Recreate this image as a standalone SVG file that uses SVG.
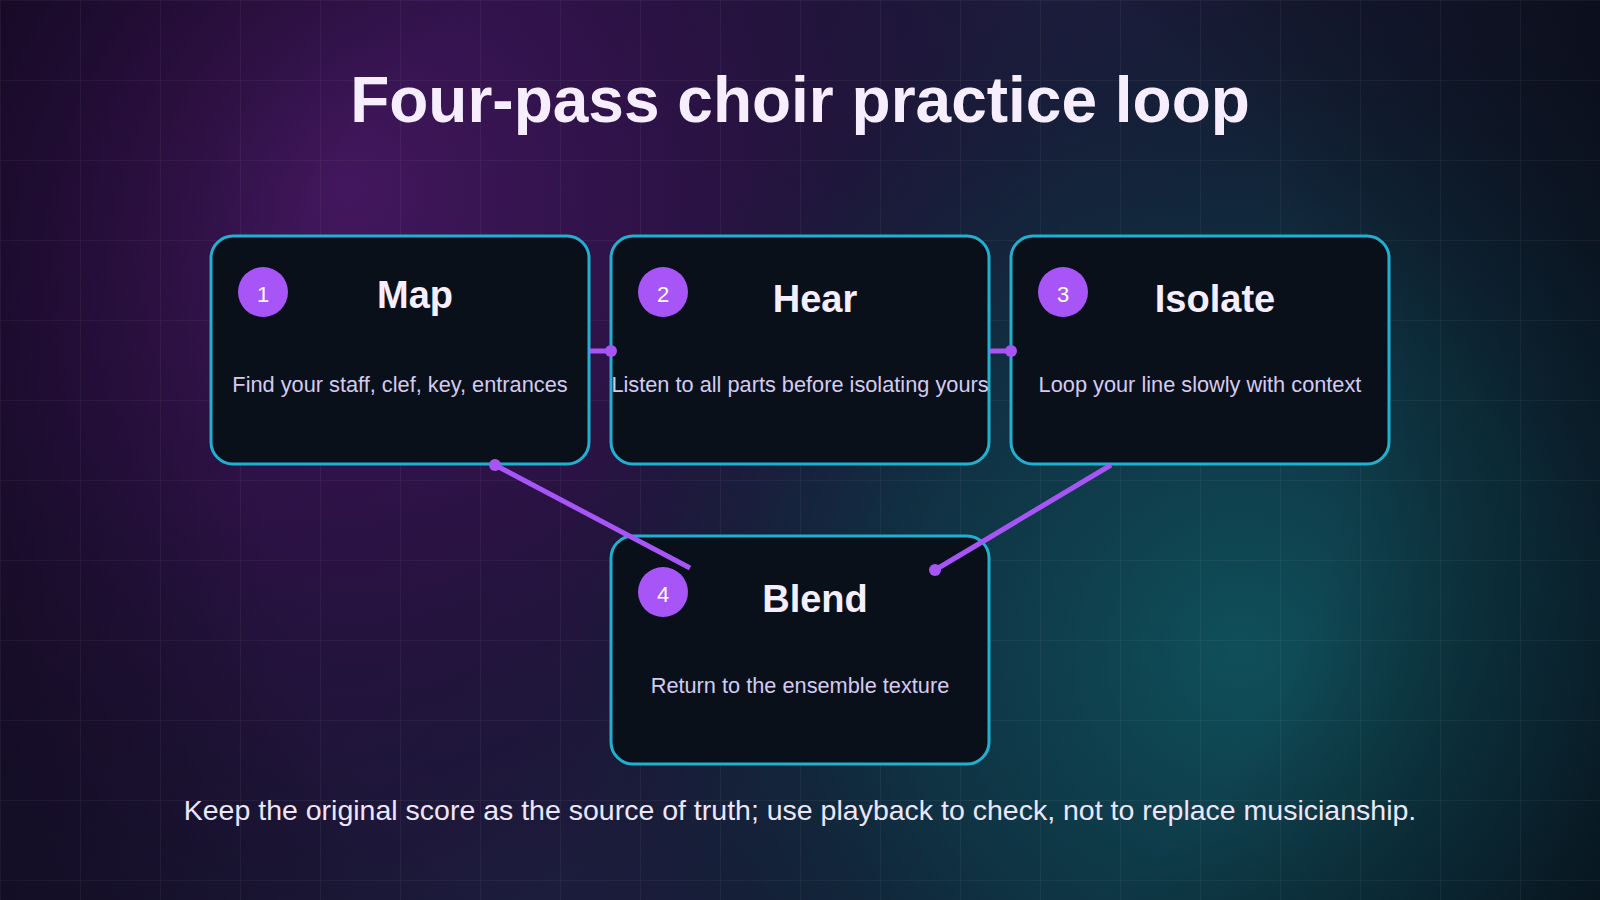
<svg xmlns="http://www.w3.org/2000/svg" width="1600" height="900" viewBox="0 0 1600 900">
  <defs>
    <radialGradient id="glowPurple" cx="350" cy="190" r="720" gradientUnits="userSpaceOnUse">
      <stop offset="0" stop-color="#43175e"/>
      <stop offset="0.5" stop-color="#2e1046" stop-opacity="0.75"/>
      <stop offset="1" stop-color="#1a0c2a" stop-opacity="0"/>
    </radialGradient>
    <radialGradient id="glowTeal" cx="1240" cy="650" r="680" gradientUnits="userSpaceOnUse">
      <stop offset="0" stop-color="#0f505a"/>
      <stop offset="0.5" stop-color="#0d3a48" stop-opacity="0.75"/>
      <stop offset="1" stop-color="#0b2030" stop-opacity="0"/>
    </radialGradient>
    <radialGradient id="vignette" cx="800" cy="450" r="980" gradientUnits="userSpaceOnUse">
      <stop offset="0.55" stop-color="#000000" stop-opacity="0"/>
      <stop offset="1" stop-color="#05040c" stop-opacity="0.55"/>
    </radialGradient>
    <linearGradient id="base" x1="0" y1="0" x2="1600" y2="900" gradientUnits="userSpaceOnUse">
      <stop offset="0" stop-color="#24103c"/>
      <stop offset="0.5" stop-color="#1c1c3c"/>
      <stop offset="1" stop-color="#0a1822"/>
    </linearGradient>
    <pattern id="grid" x="0" y="0" width="80" height="80" patternUnits="userSpaceOnUse">
      <path d="M80 0 L0 0 L0 80" fill="none" stroke="#ffffff" stroke-opacity="0.06" stroke-width="1.5"/>
    </pattern>
    <marker id="dot" viewBox="0 0 14 14" refX="7" refY="7" markerWidth="14" markerHeight="14" markerUnits="userSpaceOnUse">
      <circle cx="7" cy="7" r="6" fill="#a855f7"/>
    </marker>
    <style>
      .box { fill: #0a101a; stroke: #1fb1cf; stroke-width: 3; }
      .badge { fill: #a855f7; }
      .num { font-family: "Liberation Sans", Arial, sans-serif; font-size: 22px; fill: #ffffff; text-anchor: middle; }
      .ttl { font-family: "Liberation Sans", Arial, sans-serif; font-size: 38px; font-weight: bold; fill: #f4eefe; text-anchor: middle; }
      .desc { font-family: "Liberation Sans", Arial, sans-serif; font-size: 21.75px; fill: #d4cbf2; text-anchor: middle; }
      .conn { fill: none; stroke: #a855f7; stroke-width: 5; marker-end: url(#dot); }
    </style>
  </defs>

  <g id="background">
    <rect width="1600" height="900" fill="url(#base)"/>
    <rect width="1600" height="900" fill="url(#glowPurple)"/>
    <rect width="1600" height="900" fill="url(#glowTeal)"/>
    <rect width="1600" height="900" fill="url(#vignette)"/>
    <rect width="1600" height="900" fill="url(#grid)"/>
  </g>

  <text id="title" x="800" y="122" font-family="Liberation Sans, Arial, sans-serif" font-size="64" font-weight="bold" fill="#f6eeff" text-anchor="middle">Four-pass choir practice loop</text>

  <g id="node-map">
    <rect class="box" x="211" y="236" width="378" height="228" rx="22"/>
    <circle class="badge" cx="263" cy="292" r="25"/>
    <text class="num" x="263" y="302">1</text>
    <text class="ttl" x="415" y="308">Map</text>
    <text class="desc" x="400" y="392">Find your staff, clef, key, entrances</text>
  </g>

  <g id="node-hear">
    <rect class="box" x="611" y="236" width="378" height="228" rx="22"/>
    <circle class="badge" cx="663" cy="292" r="25"/>
    <text class="num" x="663" y="302">2</text>
    <text class="ttl" x="815" y="312">Hear</text>
    <text class="desc" x="800" y="392">Listen to all parts before isolating yours</text>
  </g>

  <g id="node-isolate">
    <rect class="box" x="1011" y="236" width="378" height="228" rx="22"/>
    <circle class="badge" cx="1063" cy="292" r="25"/>
    <text class="num" x="1063" y="302">3</text>
    <text class="ttl" x="1215" y="312">Isolate</text>
    <text class="desc" x="1200" y="392">Loop your line slowly with context</text>
  </g>

  <g id="node-blend">
    <rect class="box" x="611" y="536" width="378" height="228" rx="22"/>
    <circle class="badge" cx="663" cy="592" r="25"/>
    <text class="num" x="663" y="602">4</text>
    <text class="ttl" x="815" y="612">Blend</text>
    <text class="desc" x="800" y="693">Return to the ensemble texture</text>
  </g>

  <g id="connectors">
    <line class="conn" x1="590" y1="351" x2="611" y2="351"/>
    <line class="conn" x1="990" y1="351" x2="1011" y2="351"/>
    <line class="conn" x1="1111" y1="465" x2="935" y2="570"/>
    <line class="conn" x1="690" y1="568" x2="495" y2="465"/>
  </g>

  <text id="footer" x="800" y="820" font-family="Liberation Sans, Arial, sans-serif" font-size="28.5" fill="#ede6fb" text-anchor="middle">Keep the original score as the source of truth; use playback to check, not to replace musicianship.</text>
</svg>
